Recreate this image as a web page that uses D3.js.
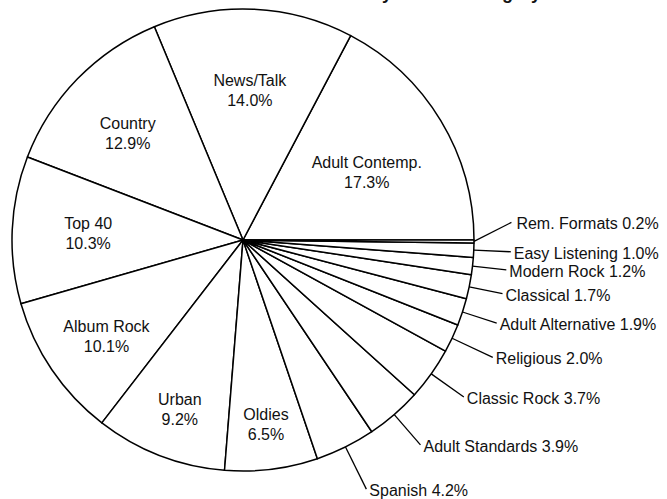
<!DOCTYPE html>
<html><head><meta charset="utf-8">
<script src="https://cdn.jsdelivr.net/npm/d3@7"></script>
<style>
body{margin:0;background:#fff;}
text{font-family:"Liberation Sans",Arial,Helvetica,sans-serif;fill:#111;}
</style>
</head><body>
<svg id="chart" width="667" height="499"></svg>
<script>
// ---- data ----
const categories = ["Adult Contemp.","News/Talk","Country","Top 40","Album Rock","Urban","Oldies",
  "Spanish","Adult Standards","Classic Rock","Religious","Adult Alternative","Classical",
  "Modern Rock","Easy Listening","Rem. Formats"];
const shares = [17.3,14.0,12.9,10.3,10.1,9.2,6.5,4.2,3.9,3.7,2.0,1.9,1.7,1.2,1.0,0.2];
const pctLabels = ["17.3%","14.0%","12.9%","10.3%","10.1%","9.2%","6.5%","4.2%","3.9%","3.7%","2.0%","1.9%","1.7%","1.2%","1.0%","0.2%"];
const chartTitle = "Stations by Format Category";

// ---- layout (not data) ----
const W = 667, H = 499;
const cx = 243, cy = 240, R = 231;
const insideCount = 7;
// inside label radius and angle nudge (degrees, d3 convention)
const insideLayout = [[141,2.5],[150,0],[157,-1.5],[155,0],[167,-1],[181,-0.7],[186,0]];
// outside leader lengths; Rem. Formats leader bends upward
const leaderLen = [47,40,40,45,36,34,34,37,42];
const deg = Math.PI/180;

const svg = d3.select("#chart");
const g = svg.append("g").attr("transform",`translate(${cx},${cy})`);

const data = categories.map((c,i)=>({name:c, value:shares[i], pct:pctLabels[i]}));
const pie = d3.pie().sort(null).value(d=>d.value)
  .startAngle(Math.PI/2).endAngle(Math.PI/2 - 2*Math.PI);
const arcs = pie(data);
const arc = d3.arc().innerRadius(0).outerRadius(R);

g.selectAll("path.slice").data(arcs).join("path")
  .attr("class","slice")
  .attr("d",arc)
  .attr("fill","#fff")
  .attr("stroke","#000")
  .attr("stroke-width",1.5)
  .attr("stroke-linejoin","round");

const pt = (a,r)=>[r*Math.sin(a), -r*Math.cos(a)];

// inside labels
arcs.slice(0,insideCount).forEach((d,i)=>{
  const a = (d.startAngle+d.endAngle)/2 + insideLayout[i][1]*deg;
  const [x,y] = pt(a, insideLayout[i][0]);
  const t = g.append("text").attr("text-anchor","middle").attr("font-size",16)
    .attr("x",x).attr("y",y);
  t.append("tspan").attr("x",x).attr("y",y-10).attr("dominant-baseline","central").text(d.data.name);
  t.append("tspan").attr("x",x).attr("y",y+10).attr("dominant-baseline","central").text(d.data.pct);
});

// outside labels with leader lines
arcs.slice(insideCount).forEach((d,j)=>{
  const a = (d.startAngle+d.endAngle)/2;
  const [x0,y0] = pt(a,R);
  let x1,y1,gap=3;
  if (d.data.name === "Rem. Formats") {
    const b = 63*deg; // leader angle, d3 convention
    x1 = x0 + leaderLen[j]*Math.sin(b); y1 = y0 - leaderLen[j]*Math.cos(b); gap = 5;
  } else {
    [x1,y1] = pt(a, R+leaderLen[j]);
  }
  g.append("line").attr("x1",x0).attr("y1",y0).attr("x2",x1).attr("y2",y1)
    .attr("stroke","#000").attr("stroke-width",1.3);
  g.append("text").attr("x",x1+gap).attr("y",y1+1.5).attr("font-size",16)
    .attr("dominant-baseline","central").text(`${d.data.name} ${d.data.pct}`);
});

// title (cut off at the top of the frame, as in the reference)
svg.append("text").attr("x",418).attr("y",-1.5).attr("text-anchor","middle")
  .attr("font-size",18).attr("font-weight","bold").text(chartTitle);
</script>
</body></html>
